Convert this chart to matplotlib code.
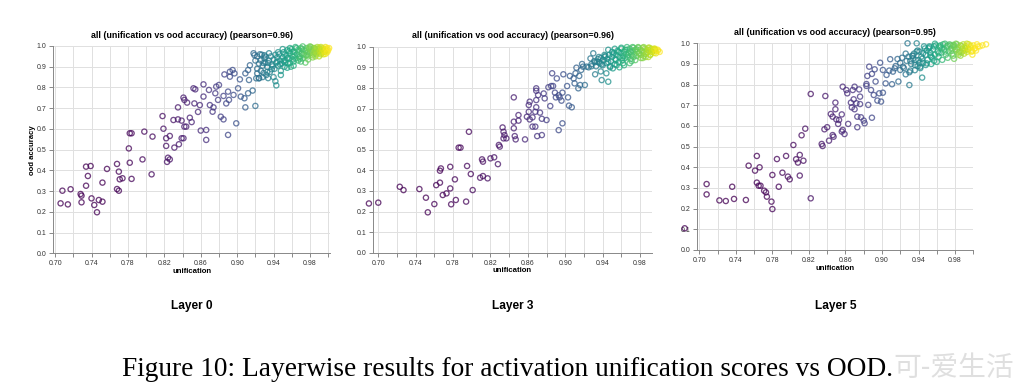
import numpy as np
import matplotlib
matplotlib.use('agg')
import matplotlib.pyplot as plt
from matplotlib.colors import PowerNorm

# ---- data ----
layer0_x = [0.706, 0.708, 0.714, 0.717, 0.728, 0.729, 0.729, 0.734, 0.739, 0.736, 0.734, 0.740,
            0.743, 0.746, 0.748, 0.752, 0.752, 0.757, 0.768, 0.768, 0.770, 0.770, 0.771, 0.774,
            0.781, 0.782, 0.782, 0.784, 0.784, 0.796, 0.798, 0.807, 0.806, 0.818, 0.819, 0.822,
            0.822, 0.824, 0.826, 0.823, 0.826, 0.830, 0.831, 0.836, 0.835, 0.835, 0.839, 0.841,
            0.839, 0.841, 0.842, 0.842, 0.844, 0.845, 0.848, 0.850, 0.852, 0.853, 0.854, 0.857,
            0.859, 0.860, 0.863, 0.863, 0.866, 0.866, 0.869, 0.870, 0.874, 0.873, 0.877, 0.876,
            0.879, 0.880, 0.882, 0.885, 0.885, 0.886, 0.888, 0.890, 0.890, 0.891, 0.892, 0.892,
            0.895, 0.897, 0.896, 0.899, 0.901, 0.903, 0.904, 0.908, 0.909, 0.909, 0.912, 0.913,
            0.912, 0.914, 0.917, 0.920, 0.919, 0.921, 0.922, 0.924,
            0.918, 0.922, 0.925, 0.920, 0.924, 0.926, 0.928, 0.930, 0.922, 0.926, 0.929, 0.931,
            0.933, 0.935, 0.932, 0.936, 0.938, 0.940, 0.937, 0.941, 0.943, 0.944, 0.942, 0.943,
            0.945, 0.947, 0.946, 0.948, 0.949, 0.950, 0.951, 0.952, 0.953, 0.954, 0.955, 0.956,
            0.957, 0.958, 0.959, 0.960, 0.961, 0.962, 0.963, 0.964, 0.965, 0.966, 0.967, 0.968,
            0.969, 0.970, 0.971, 0.972, 0.973, 0.974, 0.975, 0.976, 0.977, 0.978, 0.979, 0.980,
            0.981, 0.982, 0.983, 0.984, 0.985, 0.986, 0.987, 0.988, 0.989, 0.990, 0.991, 0.992,
            0.993, 0.994, 0.995, 0.996, 0.997, 0.998, 0.999, 1.000, 0.992, 0.986, 0.978, 0.970,
            0.962, 0.955, 0.948, 0.940, 0.934, 0.928, 0.924, 0.930, 0.935, 0.945, 0.950, 0.958,
            0.964, 0.972, 0.980, 0.988, 0.995, 0.983, 0.976, 0.968, 0.961, 0.953, 0.997, 0.990,
            0.927, 0.931, 0.934, 0.939, 0.942, 0.947, 0.951, 0.955, 0.958, 0.961, 0.963, 0.967,
            0.969, 0.973, 0.975, 0.977, 0.981, 0.984, 0.986, 0.988, 0.990, 0.991, 0.993, 0.994,
            0.996, 0.997, 0.998, 0.999, 1.001, 0.985, 0.979, 0.971, 0.957, 0.952, 0.944, 0.938,
            0.933, 0.929]
layer0_y = [0.241, 0.302, 0.236, 0.309, 0.286, 0.278, 0.246, 0.418, 0.421, 0.373, 0.326, 0.265,
            0.233, 0.198, 0.257, 0.249, 0.341, 0.407, 0.431, 0.310, 0.302, 0.394, 0.357, 0.362,
            0.506, 0.437, 0.579, 0.579, 0.359, 0.453, 0.587, 0.563, 0.381, 0.662, 0.601, 0.555,
            0.518, 0.461, 0.453, 0.441, 0.566, 0.643, 0.510, 0.526, 0.646, 0.704, 0.555, 0.555,
            0.640, 0.751, 0.740, 0.611, 0.611, 0.727, 0.654, 0.633, 0.796, 0.723, 0.791, 0.682,
            0.715, 0.592, 0.815, 0.756, 0.595, 0.547, 0.788, 0.715, 0.704, 0.683, 0.804, 0.772,
            0.740, 0.812, 0.659, 0.646, 0.759, 0.863, 0.723, 0.571, 0.780, 0.740, 0.852, 0.876,
            0.884, 0.868, 0.764, 0.627, 0.796, 0.839, 0.756, 0.748, 0.704, 0.868, 0.772, 0.836,
            0.884, 0.907, 0.785, 0.711, 0.956, 0.844, 0.868, 0.844,
            0.965, 0.950, 0.960, 0.930, 0.915, 0.930, 0.905, 0.940, 0.890, 0.880, 0.870, 0.920,
            0.900, 0.930, 0.860, 0.875, 0.910, 0.935, 0.950, 0.890, 0.920, 0.945, 0.830, 0.810,
            0.905, 0.930, 0.960, 0.880, 0.915, 0.945, 0.970, 0.900, 0.930, 0.955, 0.980, 0.915,
            0.940, 0.965, 0.900, 0.985, 0.950, 0.925, 0.970, 0.940, 0.990, 0.960, 0.930, 0.975,
            0.950, 0.990, 0.965, 0.940, 0.980, 0.955, 0.920, 0.990, 0.970, 0.950, 0.985, 0.965,
            0.995, 0.975, 0.955, 0.990, 0.970, 0.985, 0.960, 0.995, 0.975, 0.985, 0.965, 0.995,
            0.980, 0.990, 0.970, 0.985, 0.995, 0.975, 0.990, 0.980, 0.960, 0.950, 0.935, 0.925,
            0.905, 0.895, 0.860, 0.850, 0.845, 0.850, 0.845, 0.955, 0.965, 0.970, 0.985, 0.990,
            0.995, 0.998, 0.998, 0.985, 0.960, 0.945, 0.955, 0.945, 0.935, 0.920, 0.980, 0.950,
            0.958, 0.948, 0.918, 0.902, 0.958, 0.912, 0.928, 0.942, 0.918, 0.972, 0.955, 0.982,
            0.938, 0.962, 0.978, 0.958, 0.982, 0.962, 0.978, 0.968, 0.992, 0.978, 0.968, 0.982,
            0.972, 0.962, 0.985, 0.970, 0.990, 0.990, 0.992, 0.985, 0.975, 0.958, 0.925, 0.888,
            0.875, 0.918]

layer3_x = [0.690, 0.700, 0.723, 0.727, 0.744, 0.751, 0.753, 0.760, 0.762, 0.766, 0.766, 0.767,
            0.769, 0.773, 0.777, 0.777, 0.778, 0.782, 0.783, 0.786, 0.788, 0.794, 0.795, 0.797,
            0.799, 0.801, 0.809, 0.811, 0.812, 0.812, 0.817, 0.820, 0.824, 0.828, 0.829, 0.830,
            0.833, 0.834, 0.835, 0.834, 0.837, 0.845, 0.845, 0.845, 0.846, 0.847, 0.850, 0.850,
            0.857, 0.859, 0.861, 0.861, 0.862, 0.862, 0.865, 0.865, 0.868, 0.868, 0.869, 0.869,
            0.869, 0.869, 0.870, 0.871, 0.873, 0.875, 0.875, 0.877, 0.878, 0.880, 0.882, 0.884,
            0.885, 0.886, 0.887, 0.889, 0.890, 0.891, 0.893, 0.893, 0.894, 0.896, 0.897, 0.897,
            0.898, 0.902, 0.903, 0.904, 0.907, 0.905, 0.909, 0.910, 0.911, 0.914, 0.916, 0.915,
            0.917, 0.919, 0.921, 0.930, 0.932, 0.939, 0.944, 0.937, 0.934, 0.927, 0.918, 0.912,
            0.923, 0.946, 0.955, 0.951,
            0.925, 0.928, 0.931, 0.933, 0.936, 0.938, 0.940, 0.941, 0.943, 0.944, 0.945, 0.947,
            0.948, 0.949, 0.950, 0.952, 0.953, 0.954, 0.955, 0.956, 0.957, 0.958, 0.959, 0.960,
            0.961, 0.962, 0.963, 0.964, 0.965, 0.966, 0.967, 0.968, 0.969, 0.970, 0.971, 0.972,
            0.973, 0.974, 0.975, 0.976, 0.977, 0.978, 0.979, 0.980, 0.981, 0.982, 0.983, 0.984,
            0.985, 0.986, 0.987, 0.988, 0.989, 0.990, 0.991, 0.992, 0.993, 0.994, 0.995, 0.996,
            0.997, 0.999, 1.001, 0.958, 0.963, 0.969, 0.975, 0.981, 0.986, 0.942, 0.936, 0.950,
            0.946, 0.953, 0.960, 0.966, 0.972, 0.978, 0.984, 0.990, 0.996, 0.989, 0.983, 0.971,
            0.928, 0.932, 0.935, 0.939, 0.942, 0.946, 0.951, 0.954, 0.957, 0.961, 0.964, 0.967,
            0.970, 0.973, 0.976, 0.979, 0.982, 0.984, 0.987, 0.989, 0.991, 0.993, 0.995, 0.997,
            0.999, 0.962, 0.948, 0.938]
layer3_y = [0.239, 0.243, 0.320, 0.304, 0.309, 0.267, 0.196, 0.236, 0.328, 0.340, 0.398, 0.409,
            0.280, 0.288, 0.417, 0.312, 0.235, 0.356, 0.256, 0.510, 0.510, 0.248, 0.421, 0.587,
            0.382, 0.304, 0.364, 0.453, 0.442, 0.372, 0.361, 0.458, 0.463, 0.430, 0.523, 0.515,
            0.608, 0.587, 0.571, 0.555, 0.555, 0.754, 0.604, 0.636, 0.566, 0.550, 0.668, 0.641,
            0.550, 0.660, 0.684, 0.717, 0.733, 0.647, 0.657, 0.612, 0.612, 0.684, 0.798, 0.786,
            0.741, 0.706, 0.566, 0.765, 0.680, 0.571, 0.650, 0.773, 0.749, 0.644, 0.803, 0.712,
            0.809, 0.871, 0.809, 0.777, 0.754, 0.846, 0.595, 0.764, 0.754, 0.738, 0.628, 0.777,
            0.866, 0.809, 0.754, 0.714, 0.706, 0.858, 0.846, 0.822, 0.871, 0.798, 0.814, 0.858,
            0.887, 0.903, 0.814, 0.968, 0.866, 0.838, 0.871, 0.919, 0.927, 0.943, 0.916, 0.898,
            0.903, 0.830, 0.911, 0.895,
            0.900, 0.915, 0.930, 0.905, 0.925, 0.945, 0.910, 0.935, 0.955, 0.920, 0.940, 0.960,
            0.905, 0.930, 0.950, 0.970, 0.915, 0.940, 0.960, 0.980, 0.925, 0.950, 0.970, 0.990,
            0.935, 0.955, 0.975, 0.945, 0.965, 0.985, 0.950, 0.970, 0.990, 0.940, 0.960, 0.980,
            0.995, 0.965, 0.985, 0.955, 0.975, 0.995, 0.970, 0.985, 0.960, 0.980, 0.995, 0.975,
            0.990, 0.965, 0.985, 0.975, 0.995, 0.980, 0.960, 0.990, 0.975, 0.985, 0.970, 0.990,
            0.980, 0.985, 0.975, 0.900, 0.910, 0.920, 0.935, 0.945, 0.950, 0.960, 0.950, 0.975,
            0.985, 0.990, 0.995, 0.998, 0.998, 0.998, 0.998, 0.995, 0.985, 0.950, 0.945, 0.930,
            0.905, 0.925, 0.940, 0.915, 0.950, 0.925, 0.962, 0.935, 0.975, 0.945, 0.985, 0.958,
            0.975, 0.950, 0.988, 0.965, 0.978, 0.955, 0.970, 0.985, 0.962, 0.975, 0.990, 0.968,
            0.980, 0.920, 0.900, 0.880]

layer5_x = [0.684, 0.708, 0.708, 0.722, 0.729, 0.736, 0.738, 0.751, 0.754, 0.761, 0.763, 0.766,
            0.763, 0.765, 0.767, 0.771, 0.773, 0.774, 0.779, 0.780, 0.780, 0.785, 0.787, 0.791,
            0.795, 0.797, 0.799, 0.803, 0.806, 0.808, 0.810, 0.810, 0.814, 0.812, 0.816, 0.822,
            0.822, 0.834, 0.835, 0.837, 0.838, 0.840, 0.842, 0.844, 0.846, 0.846, 0.847, 0.849,
            0.849, 0.850, 0.852, 0.853, 0.856, 0.857, 0.856, 0.857, 0.859, 0.861, 0.862, 0.863,
            0.866, 0.867, 0.868, 0.869, 0.870, 0.870, 0.872, 0.873, 0.873, 0.875, 0.876, 0.876,
            0.877, 0.880, 0.881, 0.883, 0.883, 0.884, 0.885, 0.886, 0.888, 0.889, 0.889, 0.891,
            0.892, 0.893, 0.895, 0.897, 0.898, 0.899, 0.901, 0.901, 0.904, 0.905, 0.908, 0.909,
            0.911, 0.912, 0.914, 0.917, 0.918, 0.920, 0.923, 0.930, 0.928, 0.931, 0.938, 0.942,
            0.944, 0.945, 0.949, 0.934, 0.940, 0.954,
            0.915, 0.920, 0.924, 0.927, 0.929, 0.932, 0.935, 0.937, 0.939, 0.941, 0.943, 0.945,
            0.947, 0.948, 0.950, 0.952, 0.953, 0.955, 0.956, 0.958, 0.959, 0.961, 0.962, 0.964,
            0.965, 0.967, 0.968, 0.970, 0.971, 0.973, 0.974, 0.976, 0.977, 0.979, 0.980, 0.982,
            0.983, 0.985, 0.986, 0.988, 0.989, 0.991, 0.992, 0.994, 0.995, 0.997, 0.998, 1.000,
            1.002, 1.004, 1.007, 1.010, 1.014, 0.990, 0.984, 0.978, 0.972, 0.966, 0.960, 0.954,
            0.948, 0.942, 0.936, 0.930, 0.926, 0.946, 0.958, 0.969, 0.981, 0.993, 1.003, 0.999,
            0.987, 0.975, 0.963, 0.951, 0.939, 0.933, 0.957, 0.979,
            0.922, 0.926, 0.931, 0.934, 0.938, 0.944, 0.949, 0.953, 0.957, 0.962, 0.966, 0.969,
            0.972, 0.976, 0.979, 0.982, 0.984, 0.987, 0.989, 0.991, 0.993, 0.995, 0.997, 0.999,
            1.001, 1.005, 0.986, 0.978, 0.964, 0.952, 0.941, 0.936]
layer5_y = [0.105, 0.319, 0.269, 0.240, 0.237, 0.306, 0.247, 0.242, 0.408, 0.384, 0.455, 0.400,
            0.326, 0.311, 0.311, 0.287, 0.279, 0.258, 0.234, 0.198, 0.363, 0.440, 0.306, 0.374,
            0.455, 0.355, 0.342, 0.508, 0.439, 0.423, 0.460, 0.360, 0.432, 0.555, 0.587, 0.755,
            0.250, 0.513, 0.503, 0.584, 0.745, 0.594, 0.529, 0.658, 0.645, 0.556, 0.548, 0.713,
            0.681, 0.632, 0.610, 0.629, 0.573, 0.581, 0.656, 0.790, 0.561, 0.774, 0.758, 0.610,
            0.713, 0.690, 0.774, 0.729, 0.681, 0.790, 0.710, 0.594, 0.645, 0.777, 0.742, 0.706,
            0.642, 0.626, 0.613, 0.794, 0.803, 0.842, 0.702, 0.887, 0.774, 0.852, 0.640, 0.750,
            0.874, 0.815, 0.723, 0.758, 0.906, 0.718, 0.761, 0.871, 0.806, 0.847, 0.868, 0.923,
            0.802, 0.863, 0.879, 0.924, 0.815, 0.871, 0.887, 0.798, 1.000, 0.868, 1.000, 0.887,
            0.834, 0.952, 0.903, 0.927, 0.919, 0.935,
            0.890, 0.905, 0.880, 0.915, 0.935, 0.900, 0.950, 0.920, 0.890, 0.960, 0.935, 0.905,
            0.975, 0.945, 0.920, 0.985, 0.955, 0.930, 0.970, 0.945, 0.990, 0.960, 0.935, 0.980,
            0.955, 0.995, 0.970, 0.945, 0.985, 0.960, 0.995, 0.975, 0.950, 0.990, 0.970, 0.995,
            0.980, 0.960, 0.990, 0.975, 0.995, 0.965, 0.985, 0.970, 0.995, 0.980, 0.960, 0.990,
            0.975, 0.995, 0.985, 0.990, 0.995, 0.950, 0.945, 0.940, 0.930, 0.920, 0.910, 0.900,
            0.895, 0.880, 0.870, 0.860, 0.850, 0.985, 0.998, 0.998, 0.998, 0.998, 0.965, 0.945,
            0.955, 0.990, 0.985, 0.975, 0.965, 0.940, 0.915, 0.925,
            0.930, 0.950, 0.915, 0.940, 0.960, 0.925, 0.965, 0.942, 0.985, 0.952, 0.975, 0.960,
            0.990, 0.965, 0.982, 0.970, 0.955, 0.985, 0.965, 0.978, 0.958, 0.972, 0.988, 0.962,
            0.975, 0.985, 0.940, 0.992, 0.990, 0.980, 0.905, 0.895]

panels = [
    # x, y, layer label, pearson, axes box in pixels (left, right, top, bottom), x domain
    (layer0_x, layer0_y, 'Layer 0', '0.96', (53.3, 330.0, 46.0, 253.3), (0.698, 1.002)),
    (layer3_x, layer3_y, 'Layer 3', '0.96', (373.3, 651.7, 46.7, 252.7), (0.6947, 0.9925)),
    (layer5_x, layer5_y, 'Layer 5', '0.95', (697.3, 973.3, 43.3, 250.0), (0.6978, 1.0)),
]

W, H = 1023, 389
fig = plt.figure(figsize=(W / 100, H / 100), dpi=100)
plt.rcParams['font.family'] = ['Liberation Sans', 'DejaVu Sans']

norm = PowerNorm(gamma=3.4, vmin=0.70, vmax=1.0)
cmap = plt.get_cmap('viridis')

for i, (xs, ys, layer, r, box, xdom) in enumerate(panels):
    l, rgt, t, b = box
    ax = fig.add_axes([l / W, 1 - b / H, (rgt - l) / W, (b - t) / H])
    ax.set_xlim(*xdom)
    ax.set_ylim(0, 1.0)
    xs = np.array(xs)
    ys = np.array(ys)
    cols = cmap(norm(np.clip(xs, 0.70, 1.0)))
    ax.scatter(xs, ys, s=14, facecolors='none', edgecolors=cols, linewidths=0.95,
               alpha=0.75, clip_on=False, zorder=3)

    xt = np.round(np.arange(0.70, xdom[1] + 1e-9, 0.02), 2)
    ax.set_xticks(xt)
    ax.set_xticklabels(['%.2f' % v if k % 2 == 0 else '' for k, v in enumerate(xt)])
    ax.set_yticks(np.round(np.arange(0, 1.01, 0.1), 1))
    ax.set_yticklabels(['%.1f' % v for v in np.arange(0, 1.01, 0.1)])
    ax.grid(True, color='#e0e0e0', linewidth=0.7)
    ax.set_axisbelow(True)
    for s in ['top', 'right']:
        ax.spines[s].set_visible(False)
    for s in ['left', 'bottom']:
        ax.spines[s].set_color('#888888')
        ax.spines[s].set_linewidth(0.7)
    ax.tick_params(length=3, width=0.7, color='#888888', labelsize=5, pad=2,
                   labelcolor='#333333')

    cx = (l + rgt) / 2 / W
    fig.text(cx, 1 - (t - 11) / H,
             'all (unification vs ood accuracy) (pearson=%s)' % r,
             ha='center', va='center', fontsize=6.4, fontweight='bold')
    fig.text(cx, 1 - (b + 18) / H, 'unification', ha='center', va='center',
             fontsize=5.6, fontweight='bold')
    fig.text(cx, 1 - 306 / H, layer, ha='center', va='center', fontsize=8.6,
             fontweight='bold')
    if i == 0:
        fig.text(33 / W, 1 - 150 / H, 'ood accuracy', rotation=90, ha='center',
                 va='center', fontsize=5.6, fontweight='bold')

fig.text(508 / W, 1 - 369 / H,
         'Figure 10: Layerwise results for activation unification scores vs OOD.',
         ha='center', va='center', fontsize=19.7, family='Liberation Serif')
fig.text(893 / W, 1 - 368 / H, '可-爱生活', ha='left', va='center', fontsize=20,
         family=['Noto Sans CJK SC', 'DejaVu Sans'], color='#d8d8d8', alpha=0.8)

fig.savefig('out.png', dpi=100)
